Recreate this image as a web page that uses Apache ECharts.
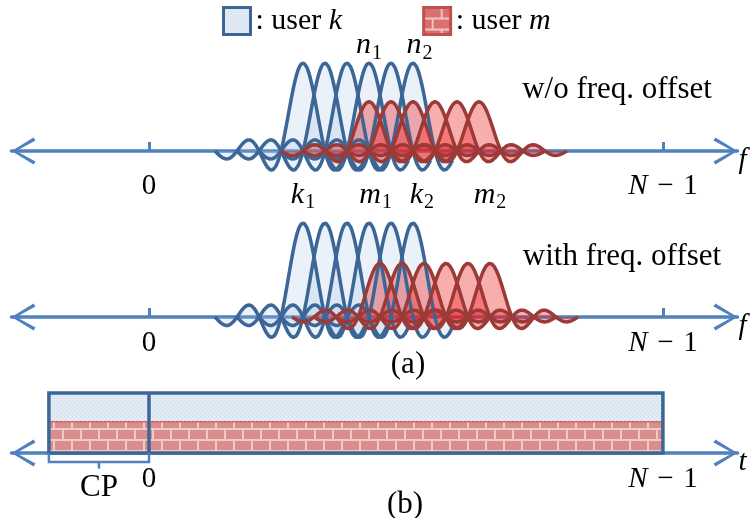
<!DOCTYPE html>
<html>
<head>
<meta charset="utf-8">
<script src="https://cdn.jsdelivr.net/npm/echarts@6/dist/echarts.min.js"></script>
<style>
  html, body { margin: 0; padding: 0; background: #fff; }
  #chart { width: 751px; height: 518px; }
</style>
</head>
<body>
<div id="chart"></div>
<script>
// subcarrier centres, in units of the subcarrier spacing (0 = first subcarrier)
const userKCentres = [7, 8, 9, 10, 11, 12]
const userMCentres = [10, 11, 12, 13, 14, 15]
const userMCentresShifted = [10.5, 11.5, 12.5, 13.5, 14.5, 15.5]
// peak heights in panel (a) top / bottom
const peakK = [1.0, 1.07]
const peakM = [0.56, 0.61]
// last subcarrier (N - 1) and cyclic prefix length, same units
const lastIndex = 23.36
const cpLength = 4.55
// share of the symbol box taken by user m (lower layer)
const layerSplit = 0.52
// tick labels
const tickValues = [0, lastIndex]
const tickLabels = ['0', '{i|N}\u2004\u2212\u20041']
// subscripted labels over / under the spectra
const markNames = ['n1', 'n2', 'k1', 'm1', 'k2', 'm2']
const markX = [10, 12.3, 7, 10.3, 12.4, 15.5]
const markY = [1.2, 1.2, -0.5, -0.5, -0.5, -0.5]

const SERIF = 'Liberation Serif'
const AXIS = '#4f81bd'
const BLUE = '#3b6696'
const RED = '#9c3a38'

// little fill patterns like the office ones
function makePattern(w, h, draw) {
  const c = document.createElement('canvas')
  c.width = w
  c.height = h
  draw(c.getContext('2d'))
  return { image: c, repeat: 'repeat' }
}
function bricks(g, mortar, brick) {
  g.fillStyle = mortar
  g.fillRect(0, 0, 36, 22)
  g.fillStyle = brick
  g.fillRect(1, 1, 16, 9)
  g.fillRect(19, 1, 16, 9)
  g.fillRect(0, 12, 8, 9)
  g.fillRect(10, 12, 16, 9)
  g.fillRect(28, 12, 8, 9)
}
const bluePat = makePattern(4, 4, g => {
  g.fillStyle = '#e3ebf5'
  g.fillRect(0, 0, 4, 4)
  g.fillStyle = '#c2d4ea'
  g.fillRect(0, 0, 1, 1)
  g.fillRect(2, 2, 1, 1)
})
const brickPat = makePattern(36, 22, g => bricks(g, '#eecbca', '#d98e8d'))
const redPat = makePattern(36, 22, g => bricks(g, '#f2c4c3', '#d9706e'))

// sinc pulse of one subcarrier
function pulse(c, amp, from, to) {
  const pts = []
  for (let x = from; x <= to + 1e-9; x += 0.04) {
    const u = (x - c) * Math.PI
    pts.push([+x.toFixed(3), Math.abs(u) < 1e-9 ? amp : amp * Math.sin(u) / u])
  }
  return pts
}

function pulseSeries(name, centres, amp, grid, before, after, line, area) {
  return centres.map(c => ({
    name,
    type: 'line',
    xAxisIndex: grid,
    yAxisIndex: grid,
    data: pulse(c, amp, c - before, c + after),
    showSymbol: false,
    smooth: false,
    silent: true,
    clip: false,
    lineStyle: { color: line, width: 3.5 },
    itemStyle: { color: line },
    areaStyle: { color: area, origin: 0 }
  }))
}

// open chevron pointing up, ECharts turns it along the axis
const chevron = 'path://M14,0 L28,23 L25,25 L14,5 L3,25 L0,23 Z'

function axisX(grid, name, margin, showTicks) {
  return {
    type: 'value',
    gridIndex: grid,
    min: -6.25,
    max: 26.75,
    axisLine: {
      onZero: false,
      lineStyle: { color: AXIS, width: 3.5 },
      symbol: [chevron, chevron],
      symbolSize: [27, 24],
      symbolOffset: [12, -12]
    },
    axisTick: {
      show: showTicks,
      inside: true,
      length: 9,
      customValues: tickValues,
      lineStyle: { color: AXIS, width: 3 }
    },
    axisLabel: {
      customValues: tickValues,
      margin,
      color: '#000',
      fontFamily: SERIF,
      fontSize: 29,
      formatter: v => tickLabels[tickValues.indexOf(v)] || '',
      rich: { i: { fontFamily: SERIF, fontSize: 29, fontStyle: 'italic', color: '#000' } }
    },
    splitLine: { show: false },
    name,
    nameLocation: 'end',
    nameGap: 1,
    nameTextStyle: { fontFamily: SERIF, fontStyle: 'italic', fontSize: 29, color: '#000', verticalAlign: 'top', lineHeight: 18 }
  }
}

const chart = echarts.init(document.getElementById('chart'), null, { renderer: 'canvas' })

const series = [].concat(
  pulseSeries('user k', userKCentres, peakK[0], 0, 4, 1.8, BLUE, 'rgba(160,190,225,0.3)'),
  pulseSeries('user m', userMCentres, peakM[0], 0, 4, 4, RED, 'rgba(238,25,25,0.5)'),
  pulseSeries('user k', userKCentres, peakK[1], 1, 4, 1.8, BLUE, 'rgba(160,190,225,0.3)'),
  pulseSeries('user m', userMCentresShifted, peakM[1], 1, 4, 4, RED, 'rgba(238,25,25,0.5)')
)

// subscripted labels n1, n2, k1 ...
series.push({
  type: 'scatter',
  xAxisIndex: 0,
  yAxisIndex: 0,
  symbolSize: 0,
  silent: true,
  clip: false,
  itemStyle: { opacity: 1 },
  data: markNames.map((n, i) => ({ name: n, value: [markX[i], markY[i]] })),
  label: {
    show: true,
    position: 'inside',
    color: '#000',
    opacity: 1,
    formatter: p => '{v|' + p.name[0] + '}{s|' + p.name[1] + '}',
    rich: {
      v: { fontFamily: SERIF, fontStyle: 'italic', fontSize: 30, color: '#000' },
      s: { fontFamily: SERIF, fontSize: 20, color: '#000', padding: [16, 0, 0, 1] }
    }
  }
})

// OFDM symbol in time: two layers, CP line and the CP bracket
series.push({
  type: 'custom',
  xAxisIndex: 2,
  yAxisIndex: 2,
  silent: true,
  clip: false,
  data: [[-cpLength, lastIndex, layerSplit, 1]],
  renderItem(params, api) {
    const x0 = api.value(0), x1 = api.value(1), s = api.value(2), top = api.value(3)
    const tl = api.coord([x0, top])
    const mid = api.coord([x1, s])
    const br = api.coord([x1, 0])
    const z0 = api.coord([0, 0])
    const br2 = api.coord([0, -0.15])
    const tick = api.coord([x0 / 2, -0.26])
    const w = br[0] - tl[0]
    return {
      type: 'group',
      children: [
        { type: 'rect', shape: { x: tl[0], y: tl[1], width: w, height: mid[1] - tl[1] }, style: { fill: bluePat } },
        { type: 'rect', shape: { x: tl[0], y: mid[1], width: w, height: br[1] - mid[1] }, style: { fill: brickPat } },
        { type: 'line', shape: { x1: tl[0], y1: mid[1], x2: br[0], y2: mid[1] }, style: { stroke: '#d46a68', lineWidth: 1.5 } },
        { type: 'rect', shape: { x: tl[0], y: tl[1], width: w, height: br[1] - tl[1] }, style: { fill: null, stroke: BLUE, lineWidth: 3.5 } },
        { type: 'line', shape: { x1: z0[0], y1: tl[1], x2: z0[0], y2: z0[1] }, style: { stroke: BLUE, lineWidth: 3.5 } },
        {
          type: 'polyline',
          shape: { points: [[tl[0], z0[1]], [tl[0], br2[1]], [z0[0], br2[1]], [z0[0], z0[1]]] },
          style: { fill: null, stroke: AXIS, lineWidth: 2.5 }
        },
        { type: 'line', shape: { x1: tick[0], y1: br2[1], x2: tick[0], y2: tick[1] }, style: { stroke: AXIS, lineWidth: 2.5 } }
      ]
    }
  }
})

const textFont = '31px "Liberation Serif"'

chart.setOption({
  animation: false,
  backgroundColor: '#fff',
  grid: [
    { left: 11.5, width: 726, top: 27.8, height: 123.2, outerBoundsMode: 'none', containLabel: false },
    { left: 11.5, width: 726, top: 193.8, height: 123.2, outerBoundsMode: 'none', containLabel: false },
    { left: 11.5, width: 726, top: 381, height: 72, outerBoundsMode: 'none', containLabel: false }
  ],
  xAxis: [axisX(0, 'f', 21, true), axisX(1, 'f', 12, true), axisX(2, 't', 12, false)],
  yAxis: [
    { type: 'value', gridIndex: 0, min: 0, max: 1.4, show: false },
    { type: 'value', gridIndex: 1, min: 0, max: 1.4, show: false },
    { type: 'value', gridIndex: 2, min: 0, max: 1.2, show: false }
  ],
  legend: {
    left: 217,
    top: 1,
    icon: 'rect',
    itemWidth: 27,
    itemHeight: 27,
    itemGap: 80,
    selectedMode: false,
    data: [
      { name: 'user k', itemStyle: { color: bluePat, borderColor: BLUE, borderWidth: 3 } },
      { name: 'user m', itemStyle: { color: redPat, borderColor: '#c0504d', borderWidth: 3 } }
    ],
    formatter: n => ': user {i|' + n.slice(-1) + '}',
    textStyle: {
      fontFamily: SERIF,
      fontSize: 30,
      color: '#000',
      rich: { i: { fontFamily: SERIF, fontStyle: 'italic', fontSize: 30, color: '#000' } }
    }
  },
  graphic: [
    { type: 'text', style: { text: 'w/o freq. offset', x: 617, y: 90, align: 'center', verticalAlign: 'middle', font: textFont, fill: '#000' } },
    { type: 'text', style: { text: 'with freq. offset', x: 622, y: 257, align: 'center', verticalAlign: 'middle', font: textFont, fill: '#000' } },
    { type: 'text', style: { text: '(a)', x: 408, y: 365, align: 'center', verticalAlign: 'middle', font: textFont, fill: '#000' } },
    { type: 'text', style: { text: '(b)', x: 405, y: 505, align: 'center', verticalAlign: 'middle', font: textFont, fill: '#000' } },
    { type: 'text', style: { text: 'CP', x: 99, y: 488, align: 'center', verticalAlign: 'middle', font: textFont, fill: '#000' } }
  ],
  series
})
</script>
</body>
</html>
